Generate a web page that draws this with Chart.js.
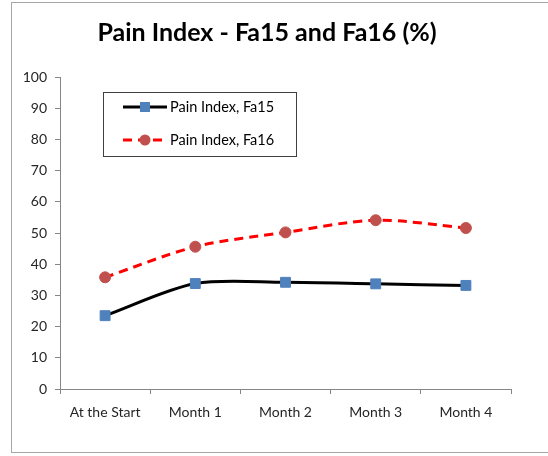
<!DOCTYPE html>
<html>
<head>
<meta charset="utf-8">
<script src="https://cdn.jsdelivr.net/npm/chart.js@4"></script>
<style>
html,body{margin:0;padding:0;background:#fff;}
#wrap{position:relative;width:548px;height:456px;}
#frame{position:absolute;left:11px;top:2px;width:545px;height:451px;border:1px solid #a6a6a6;box-sizing:border-box;}
canvas{position:absolute;left:0;top:0;}
</style>
</head>
<body>
<div id="wrap"><div id="frame"></div><canvas id="c" width="548" height="456"></canvas></div>
<script>
const categories = ["At the Start", "Month 1", "Month 2", "Month 3", "Month 4"];
const fa15 = [23.5, 33.8, 34.2, 33.7, 33.2];
const fa16 = [35.8, 45.6, 50.2, 54.1, 51.6];
const yTicks = [0, 10, 20, 30, 40, 50, 60, 70, 80, 90, 100];
const FONT = "Lato, 'Open Sans', sans-serif";

const insideLegend = {
  id: 'insideLegend',
  afterDraw(chart) {
    const ctx = chart.ctx;
    const x0 = 103, y0 = 92, w = 193, h = 64;
    ctx.save();
    ctx.fillStyle = '#fff';
    ctx.fillRect(x0, y0, w, h);
    ctx.strokeStyle = '#404040';
    ctx.lineWidth = 1;
    ctx.strokeRect(x0 + 0.5, y0 + 0.5, w, h);
    chart.data.datasets.forEach((ds, i) => {
      const cy = 107 + i * 33;
      ctx.beginPath();
      ctx.strokeStyle = ds.borderColor;
      ctx.lineWidth = ds.borderWidth;
      ctx.setLineDash(ds.borderDash || []);
      ctx.moveTo(123, cy);
      ctx.lineTo(167, cy);
      ctx.stroke();
      ctx.setLineDash([]);
      ctx.fillStyle = ds.pointBackgroundColor;
      if (ds.pointStyle === 'rect') {
        ctx.fillRect(145 - 5, cy - 5, 10, 10);
      } else {
        ctx.beginPath();
        ctx.arc(145, cy, 5.5, 0, Math.PI * 2);
        ctx.fill();
      }
      ctx.fillStyle = '#000';
      ctx.font = "14.5px " + FONT;
      ctx.textBaseline = 'middle';
      ctx.textAlign = 'left';
      ctx.fillText(ds.label, 170, cy);
    });
    ctx.restore();
  }
};

new Chart(document.getElementById('c'), {
  type: 'line',
  data: {
    labels: categories,
    datasets: [
      {
        label: 'Pain Index, Fa15',
        data: fa15,
        borderColor: '#000000',
        borderWidth: 3,
        tension: 0.3,
        pointStyle: 'rect',
        pointRadius: 7,
        pointBackgroundColor: '#4F81BD',
        pointBorderColor: '#4F81BD',
        pointBorderWidth: 1
      },
      {
        label: 'Pain Index, Fa16',
        data: fa16,
        borderColor: '#FF0000',
        borderWidth: 3,
        borderDash: [9, 6],
        tension: 0.3,
        pointStyle: 'circle',
        pointRadius: 5.5,
        pointBackgroundColor: '#C0504D',
        pointBorderColor: '#C0504D',
        pointBorderWidth: 1
      }
    ]
  },
  options: {
    responsive: false,
    animation: false,
    layout: { padding: { left: 23, right: 37, top: 0, bottom: 20 } },
    plugins: {
      legend: { display: false },
      tooltip: { enabled: false },
      title: {
        display: true,
        text: 'Pain Index - Fa15 and Fa16 (%)',
        color: '#000',
        font: { family: FONT, size: 25, weight: 'bold' },
        padding: { top: 18, bottom: 29 }
      }
    },
    scales: {
      x: {
        offset: true,
        grid: { display: true, drawOnChartArea: false, drawTicks: true, tickLength: 5, color: '#868686', offset: true },
        border: { display: true, color: '#868686', width: 1 },
        ticks: { color: '#262626', font: { family: FONT, size: 14 }, padding: 10, maxRotation: 0 },
        afterFit(s) { s.height = 47; }
      },
      y: {
        min: 0, max: 100,
        afterBuildTicks(s) { s.ticks = yTicks.map(v => ({ value: v })); },
        grid: { display: true, drawOnChartArea: false, drawTicks: true, tickLength: 5, color: '#868686' },
        border: { display: true, color: '#868686', width: 1 },
        ticks: { color: '#262626', font: { family: FONT, size: 14 }, padding: 8 },
        afterFit(s) { s.width = 37; }
      }
    }
  },
  plugins: [insideLegend]
});
</script>
</body>
</html>
